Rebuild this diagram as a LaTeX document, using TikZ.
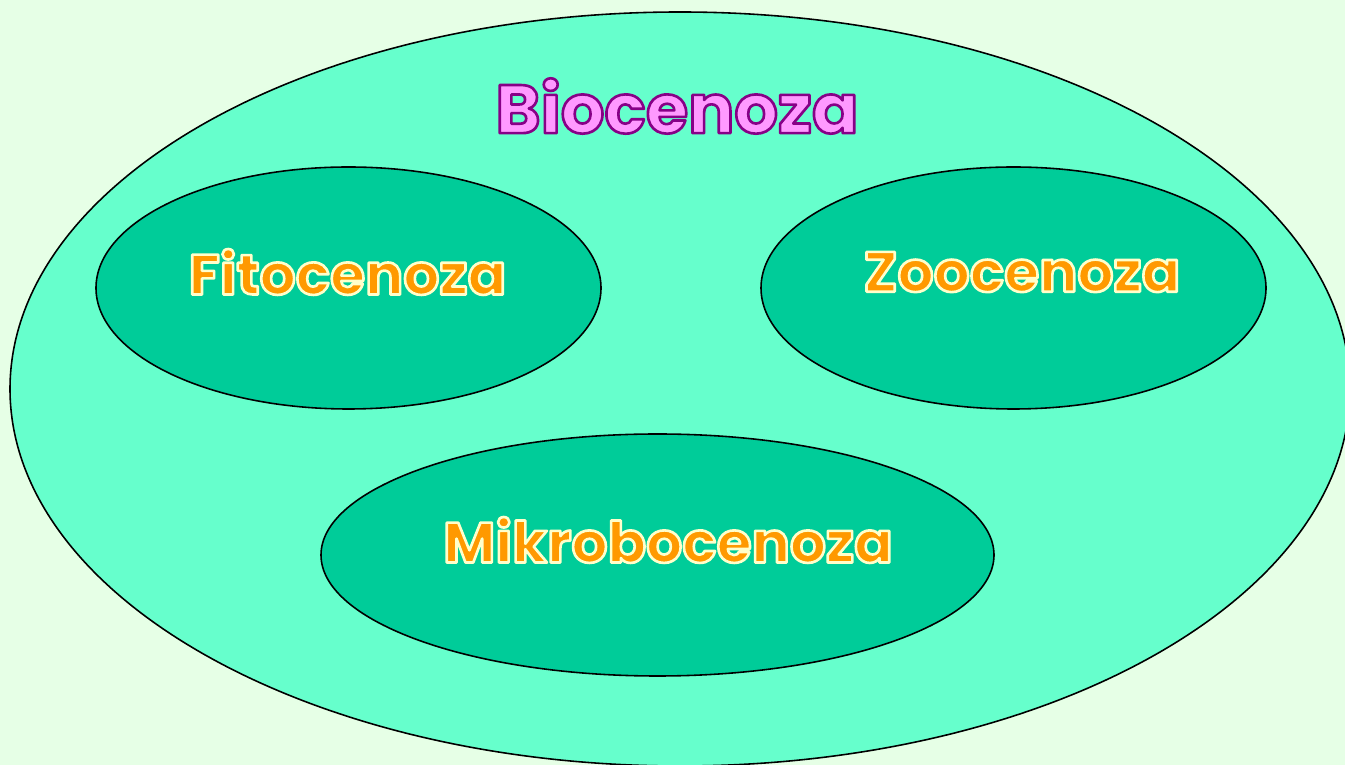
\documentclass[tikz,border=0pt]{standalone}
\usepackage{fontspec}
\setmainfont{Poppins}
\usepackage{xcolor}
\usepackage{tikz}
\usetikzlibrary{shapes.geometric, positioning}

\definecolor{paper}{HTML}{E6FFE6}
\definecolor{outerfill}{HTML}{66FFCC}
\definecolor{innerfill}{HTML}{00CC99}
\definecolor{labelorange}{HTML}{FF9900}
\definecolor{titlepink}{HTML}{FF99FF}

% filled text with a stroked rim: #1 rim (rgb numbers), #2 fill colour, #3 text
\newcommand\rimtext[3]{%
  \textcolor{#2}{\special{pdf:literal direct #1 RG 1.5 w 1 j 2 Tr}#3\special{pdf:literal direct 0 Tr}}}

\tikzset{
  group/.style={draw, ellipse, line width=0.9pt, fill=innerfill,
    minimum width=10.1cm, minimum height=4.84cm},
  grouplabel/.style={font=\fontsize{32.3}{32}\selectfont\bfseries, inner sep=0pt}
}

\begin{document}
\begin{tikzpicture}
  \useasboundingbox (0,0) rectangle (26.9,15.3);
  \fill[paper] (0,0) rectangle (26.9,15.3);
  \clip (0,0) rectangle (26.9,15.3);

  % whole community
  \node[draw, ellipse, line width=0.9pt, fill=outerfill,
    minimum width=26.8cm, minimum height=15.08cm] (bio) at (13.6,7.52) {};
  \node[font=\fontsize{39}{39}\selectfont\bfseries, inner sep=0pt] (biolabel) at (13.54,13.18)
    {\rimtext{0.53 0 0.53}{titlepink}{Biocenoza}};

  % its three parts
  \node[group] (fito) at (6.97,9.54) {};
  \node[group] (zoo) at (20.27,9.54) {};
  \node[group, minimum width=13.46cm] (mikro) at (13.15,4.2) {};

  \node[grouplabel] (fitolabel) at (6.95,9.86) {\rimtext{1 1 0.8}{labelorange}{Fitocenoza}};
  \node[grouplabel] (zoolabel) at (20.44,9.86) {\rimtext{1 1 0.8}{labelorange}{Zoocenoza}};
  \node[grouplabel] (mikrolabel) at (13.36,4.5) {\rimtext{1 1 0.8}{labelorange}{Mikrobocenoza}};
\end{tikzpicture}
\end{document}
